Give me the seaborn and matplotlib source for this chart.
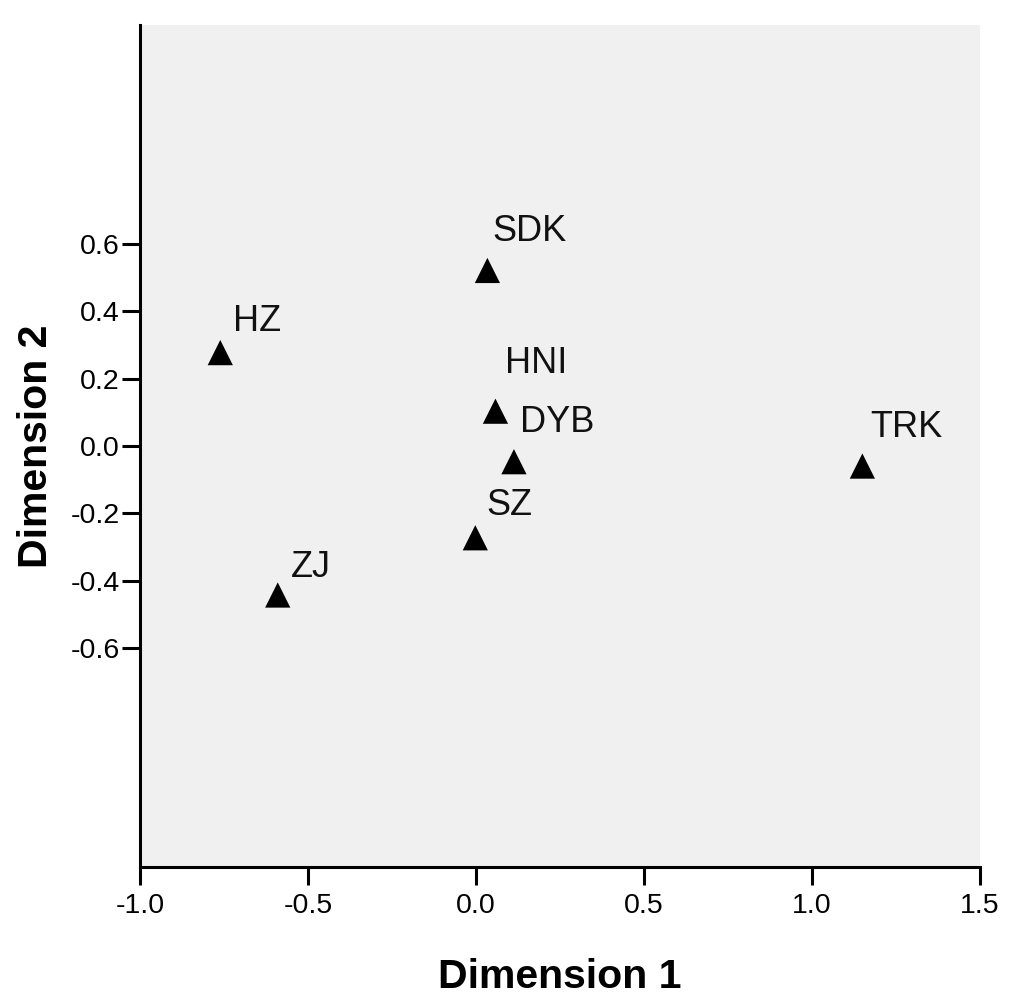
import numpy as np
import pandas as pd
import matplotlib
matplotlib.use('Agg')
import matplotlib.pyplot as plt
import seaborn as sns

# Coordenadas das duas dimensões
labels = ['SDK', 'HZ', 'HNI', 'DYB', 'TRK', 'SZ', 'ZJ']
dim1 = [0.034, -0.761, 0.058, 0.113, 1.150, -0.002, -0.590]
dim2 = [0.521, 0.277, 0.103, -0.047, -0.060, -0.273, -0.443]

# deslocamento dos rótulos (pontos)
label_dx = [3.6, 9.4, 7.2, 4.3, 5.8, 7.9, 9.4]
label_dy = [20.9, 15.8, 27.4, 21.6, 20.9, 16.6, 13.0]

xticks = [-1.0, -0.5, 0.0, 0.5, 1.0, 1.5]
yticks = [-0.6, -0.4, -0.2, 0.0, 0.2, 0.4, 0.6]

df = pd.DataFrame({'label': labels, 'Dimension 1': dim1, 'Dimension 2': dim2})

sns.set_style('ticks')
plt.rcParams['font.family'] = ['Liberation Sans', 'DejaVu Sans']

fig = plt.figure(figsize=(10.24, 10.05), dpi=100)
ax = fig.add_axes([0.1367, 0.1376, 0.8203, 0.8375])
ax.set_facecolor('#f0f0f0')

sns.scatterplot(data=df, x='Dimension 1', y='Dimension 2', marker='^',
                s=330, color='black', edgecolor='none', ax=ax, zorder=3)

for lab, x, y, dx, dy in zip(labels, dim1, dim2, label_dx, label_dy):
    ax.annotate(lab, (x, y), xytext=(dx, dy), textcoords='offset points',
                ha='left', va='baseline', fontsize=26, color='#111111')

ax.set_xlim(-1.0, 1.5)
ax.set_ylim(-1.25, 1.25)
ax.set_xticks(xticks)
ax.set_xticklabels([f'{v:.1f}' for v in xticks])
ax.set_yticks(yticks)
ax.set_yticklabels([f'{v:.1f}' for v in yticks])

for side in ['top', 'right']:
    ax.spines[side].set_visible(False)
for side in ['left', 'bottom']:
    ax.spines[side].set_linewidth(2.2)
    ax.spines[side].set_color('black')

ax.tick_params(axis='both', direction='out', length=13, width=2.2,
               labelsize=20.5, colors='black')
ax.tick_params(axis='x', pad=6)
ax.tick_params(axis='y', pad=1.5)

ax.set_xlabel('Dimension 1', fontsize=29.5, fontweight='bold', labelpad=28,
              color='black')
ax.set_ylabel('Dimension 2', fontsize=29.5, fontweight='bold', labelpad=11,
              color='black')

fig.savefig('out.png', dpi=100)
